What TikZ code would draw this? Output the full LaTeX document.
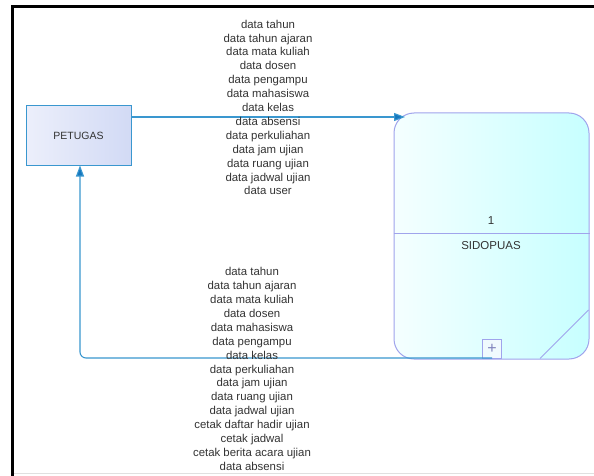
\documentclass[tikz,border=0pt]{standalone}
\usepackage{fontspec}
\setmainfont{Liberation Sans}
\usetikzlibrary{arrows.meta}
\definecolor{flowline}{HTML}{3A97CF}
\definecolor{flowtip}{HTML}{1677BE}
\definecolor{procline}{HTML}{A0A4EC}
\definecolor{entlight}{HTML}{ECEFFB}
\definecolor{entdark}{HTML}{D2DAF5}
\definecolor{txt}{HTML}{333333}

\begin{document}
\begin{tikzpicture}[x=1pt, y=-1pt, thick,
    entity/.style = {draw=flowline, line width=1pt, left color=entlight, right color=entdark, minimum width=105pt, minimum height=59pt, inner sep=0pt, font=\fontsize{10.5}{12}\selectfont, text=txt},
    proc/.style = {draw=procline, line width=1pt, rounded corners=20pt, left color=cyan!4, right color=cyan!22, minimum width=195pt, minimum height=246pt, inner sep=0pt},
    flow/.style = {draw=flowline, line width=1.1pt, -{Triangle[length=11pt, width=8pt, fill=flowtip]}},
    lbl/.style = {align=center, text=txt, inner sep=0pt}]
    \useasboundingbox (0,0) rectangle (594,476);
    \fill[white] (0,0) rectangle (594,476);
    \draw[line width=3pt] (12,476) -- (12,7) -- (594,7);
    \draw[black!12, line width=0.8pt] (14,473) -- (594,473);

    \node[entity] (petugas) at (78.5,135.5) {PETUGAS};
    \node[proc] (sidopuas) at (491.5,236) {};
    \draw[procline, line width=1pt] (sidopuas.west |- 0,233) -- (sidopuas.east |- 0,233);
    \node[font=\fontsize{11.5}{13}\selectfont, text=txt] (num) at (491,221) {1};
    \node[font=\fontsize{11.5}{13}\selectfont, text=txt] (name) at (491,246) {SIDOPUAS};
    \draw[procline, line width=1pt] (540,358.5) -- (588.5,310);
    \node[draw=procline, line width=1pt, fill=cyan!6, minimum size=19pt, inner sep=0pt, text=procline!80!black, font=\fontsize{16}{16}\selectfont] (plus) at (492,349) {+};

    \draw[flow] (petugas.east |- 0,117) -- (405,117);
    \draw[flow, rounded corners=6pt] (492,358) -| (80,165.5);

    \node[lbl, font=\fontsize{11.4}{13.9}\selectfont] (datain) at (268,107.5) {data tahun\\data tahun ajaran\\data mata kuliah\\data dosen\\data pengampu\\data mahasiswa\\data kelas\\data absensi\\data perkuliahan\\data jam ujian\\data ruang ujian\\data jadwal ujian\\data user};
    \node[lbl, font=\fontsize{11.4}{13.9}\selectfont] (dataout) at (252,369) {data tahun\\data tahun ajaran\\data mata kuliah\\data dosen\\data mahasiswa\\data pengampu\\data kelas\\data perkuliahan\\data jam ujian\\data ruang ujian\\data jadwal ujian\\cetak daftar hadir ujian\\cetak jadwal\\cetak berita acara ujian\\data absensi};
\end{tikzpicture}
\end{document}
